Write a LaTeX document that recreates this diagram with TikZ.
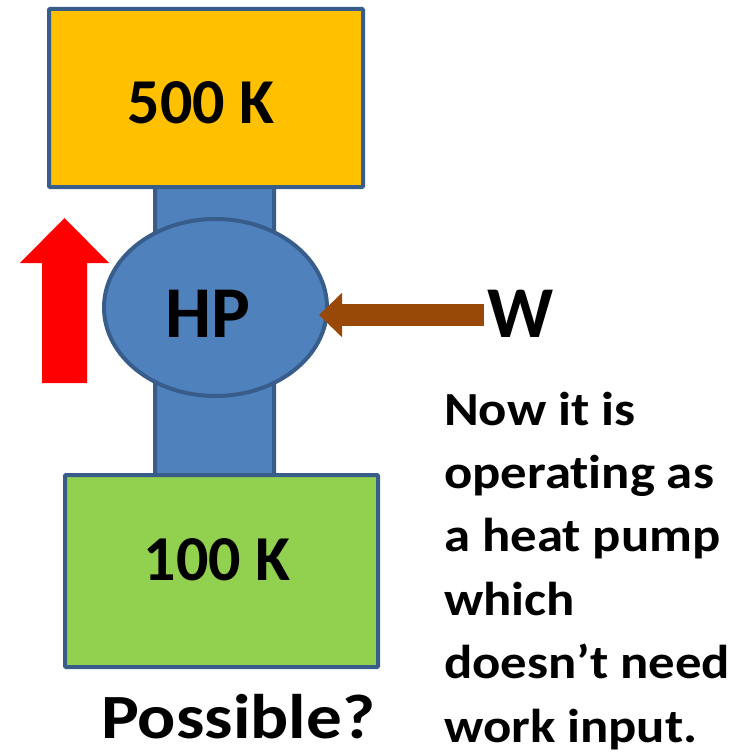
\documentclass[tikz,border=0pt]{standalone}
\usepackage{fontspec}
\setmainfont{Carlito}[Ligatures=NoCommon]
\usepackage{tikz}
\usetikzlibrary{
  calc,             % shifted points
  shapes.geometric, % ellipse
  arrows.meta       % work arrow tip
}

\definecolor{hotcol}{HTML}{FFC000}
\definecolor{coldcol}{HTML}{92D050}
\definecolor{hpcol}{HTML}{4F81BD}
\definecolor{framecol}{HTML}{385D8A}
\definecolor{heatcol}{HTML}{FF0000}
\definecolor{workcol}{HTML}{984807}

\tikzset{
  framed/.style={draw=framecol, line width=4pt, inner sep=0pt},
  reservoir/.style={framed, rectangle, rounded corners=1pt},
  bigtxt/.style={font=\bfseries\fontsize{64}{77}\selectfont, inner sep=0pt},
  hptxt/.style={font=\bfseries\fontsize{73}{88}\selectfont, inner sep=0pt},
  notetxt/.style={font=\bfseries\fontsize{47.5}{63.4}\selectfont, align=left, inner sep=0pt, xscale=1.11},
  asktxt/.style={font=\bfseries\fontsize{63}{76}\selectfont, inner sep=0pt, xscale=1.13},
  workarrow/.style={draw=workcol, line width=22pt,
    -{Triangle[length=23pt, width=43pt]}}
}

\begin{document}
\begin{tikzpicture}[x=1pt, y=-1pt]
            \useasboundingbox (0,0) rectangle (740,754);
            \node[reservoir, fill=hpcol, minimum width=119pt, minimum height=300pt] (pipe) at (214.5,331) {};
            \node[reservoir, fill=hotcol, minimum width=314pt, minimum height=178pt] (hot) at (206,98) {};
            \node[reservoir, fill=coldcol, minimum width=313pt, minimum height=192pt] (cold) at (221.5,571) {};
            \node[framed, ellipse, fill=hpcol, minimum width=223pt, minimum height=177pt] (hp) at (215.5,307.5) {};
            \node[bigtxt] (hotlabel) at ($(hot.center)+(-5,5)$) {500 K};
            \node[bigtxt] (coldlabel) at ($(cold.center)+(-4.5,-11)$) {100 K};
            \node[hptxt] (hplabel) at ($(hp.center)+(-7.5,6)$) {HP};
            \fill[heatcol] (64.5,218) -- (109,263) -- (87,263) -- (87,383)
                -- (42,383) -- (42,263) -- (20,263) -- cycle;
            \node[hptxt] (w) at (520.5,314) {W};
            \coordinate (wtail) at ($(w.west)+(-3,1)$);
            \draw[workarrow] (wtail) -- ($(wtail -| hp.east)+(-10,0)$);
            \node[notetxt, anchor=base west] (note) at (444,742)
                {Now it is\\operating as\\a heat pump\\which\\doesn’t need\\work input.};
            \node[asktxt, anchor=base west] (ask) at (101,738) {Possible?};
\end{tikzpicture}
\end{document}
